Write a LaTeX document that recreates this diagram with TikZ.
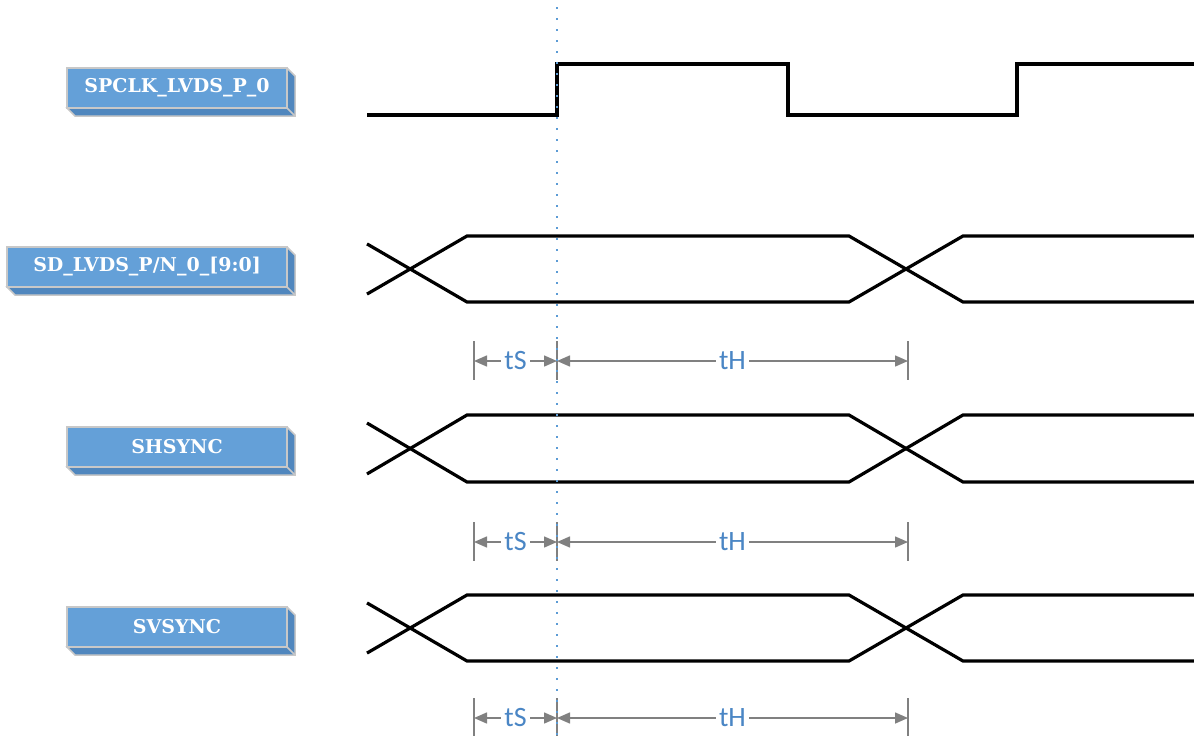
\documentclass[tikz,border=0pt]{standalone}
\usepackage{fontspec}
\setmainfont{DejaVu Serif}
\newfontfamily\dimfont{Carlito}
\usetikzlibrary{arrows.meta}
\definecolor{boxfront}{RGB}{100,160,216}
\definecolor{boxside}{RGB}{80,135,190}
\definecolor{boxedge}{RGB}{200,200,200}
\definecolor{dotblue}{RGB}{91,155,213}
\definecolor{dimgray}{RGB}{128,128,128}
\definecolor{dimtext}{RGB}{74,134,197}
\newcommand{\lvbox}[6]{%
  \fill[boxside,draw=boxedge,line width=1.5pt] (#4,#3) -- (#4+8,#3+8) -- (#4+8,#5+8) -- (#2+8,#5+8) -- (#2,#5) -- cycle;
  \draw[boxedge,line width=1.5pt] (#4,#5) -- (#4+8,#5+8);
  \fill[boxfront,draw=boxedge,line width=1.5pt] (#2,#3) rectangle (#4,#5);
  \node[lbl] (#1) at ({(#2+#4)/2},{(#3+#5)/2}) {#6};}
\begin{document}
\begin{tikzpicture}[x=1pt,y=-1pt,
  lbl/.style={font=\fontsize{19}{22}\selectfont\bfseries, text=white, inner sep=0pt},
  sig/.style={line width=3.2pt, black, line join=miter},
  dim/.style={dimgray, line width=1.5pt},
  dimarrow/.style={dim, {Triangle[length=13pt,width=11pt]}-{Triangle[length=13pt,width=11pt]}},
  dimtxt/.style={font=\dimfont\fontsize{28}{30}\selectfont, text=dimtext, fill=white, inner sep=3pt}]
\useasboundingbox (0,0) rectangle (1194,736);

% label boxes
\lvbox{clk}{67}{68}{287}{108}{SPCLK\_LVDS\_P\_0}
\lvbox{sd}{7}{247}{287}{287}{SD\_LVDS\_P/N\_0\_[9:0]}
\lvbox{hs}{67}{427}{287}{467}{SHSYNC}
\lvbox{vs}{67}{607}{287}{647}{SVSYNC}

% clock
\draw[sig] (367,115) -- (557,115) -- (557,64) -- (788,64) -- (788,115) -- (1017,115) -- (1017,64) -- (1194,64);

% data rows
\foreach \T/\B in {236/302, 415/482, 595/661}{
  \draw[sig] (367,{\T+0.12*(\B-\T)}) -- (467,\B) -- (849,\B) -- (963,\T) -- (1194,\T);
  \draw[sig] (367,{\B-0.12*(\B-\T)}) -- (467,\T) -- (849,\T) -- (963,\B) -- (1194,\B);
}

% dimension rows
\foreach \Y/\n in {361/a, 542/b, 718/c}{
  \coordinate (s\n) at (474,\Y);
  \coordinate (m\n) at (557,\Y);
  \coordinate (e\n) at (908,\Y);
  \draw[dim] (474,\Y-20) -- (474,\Y+19);
  \draw[dim] (557,\Y-20) -- (557,\Y+19);
  \draw[dim] (908,\Y-20) -- (908,\Y+19);
  \draw[dimarrow] (s\n) -- (m\n) node[midway, dimtxt] (ts\n) {tS};
  \draw[dimarrow] (m\n) -- (e\n) node[midway, dimtxt] (th\n) {tH};
}

% dotted reference line
\draw[dotblue, line width=2pt, dash pattern=on 2pt off 9pt, dash phase=-7pt] (557,0) -- (557,736);
\end{tikzpicture}
\end{document}
